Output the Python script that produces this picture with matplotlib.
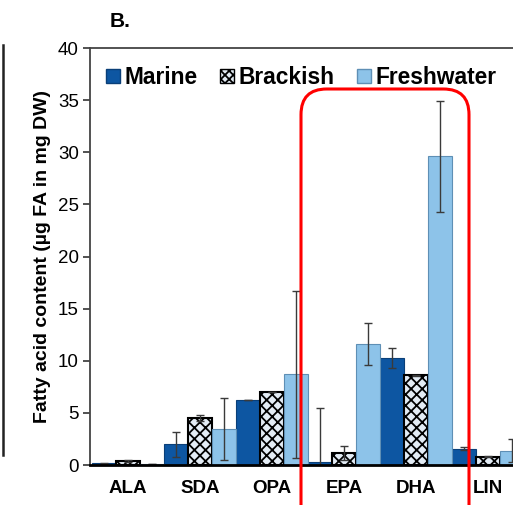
import matplotlib
matplotlib.use("Agg")
import matplotlib.pyplot as plt
import numpy as np
from matplotlib.patches import FancyBboxPatch, Patch
from matplotlib.lines import Line2D

plt.rcParams['font.family'] = ['Liberation Sans', 'DejaVu Sans']
plt.rcParams['hatch.linewidth'] = 1.3

categories = ["ALA", "SDA", "OPA", "EPA", "DHA", "LIN"]
marine = [0.15, 2.0, 6.2, 0.3, 10.3, 1.57]
marine_err = [0.05, 1.2, 0.0, 5.2, 0.95, 0.15]
brackish = [0.4, 4.5, 7.0, 1.18, 8.63, 0.8]
brackish_err = [0.1, 0.25, 0.0, 0.67, 0.05, 0.05]
freshwater = [0.05, 3.45, 8.7, 11.6, 29.6, 1.37]
freshwater_err = [0.0, 3.0, 8.0, 2.05, 5.3, 1.1]
series = ["Marine", "Brackish", "Freshwater"]
yticks = [0, 5, 10, 15, 20, 25, 30, 35, 40]

W, H = 513, 505
fig = plt.figure(figsize=(W / 100, H / 100), dpi=100)
ax = fig.add_axes([90 / W, 40 / H, 436 / W, 417 / H])

x = np.arange(len(categories))
bw = 1 / 3
c_m, c_b, c_f = "#0D56A2", "#E3ECF5", "#8DC3E9"
ekw = dict(ecolor="#3a3a3a", elinewidth=1.0, capsize=3, capthick=1.0)

ax.bar(x - bw, marine, bw, color=c_m, edgecolor="#0A3F78", linewidth=0.8,
       yerr=marine_err, error_kw=ekw, zorder=2)
ax.bar(x, brackish, bw, color=c_b, edgecolor="black", hatch="xxx", linewidth=1.5,
       yerr=brackish_err, error_kw=ekw, zorder=2)
ax.bar(x + bw, freshwater, bw, color=c_f, edgecolor="#5E8FB5", linewidth=0.8,
       yerr=freshwater_err, error_kw=ekw, zorder=2)

ax.set_xlim(-0.53, 5.53)
ax.set_ylim(0, 40)
ax.set_yticks(yticks)
ax.set_yticklabels([str(t) for t in yticks], fontsize=13.5)
ax.set_xticks(x)
ax.set_xticklabels(categories, fontsize=13.5, fontweight="bold")
ax.tick_params(axis="x", length=0, pad=11)
ax.tick_params(axis="y", direction="out", length=5, width=1.2, color="#333333", pad=3)
for s in ax.spines.values():
    s.set_color("#444444")
    s.set_linewidth(1.3)
ax.spines["bottom"].set_color("black")
ax.spines["bottom"].set_linewidth(2)
ax.set_ylabel("Fatty acid content (µg FA in mg DW)", fontsize=14,
              fontweight="bold", labelpad=5)

handles = [Patch(facecolor=c_m, edgecolor="#0A3F78"),
           Patch(facecolor=c_b, edgecolor="black", hatch="xxxx"),
           Patch(facecolor=c_f, edgecolor="#5E8FB5")]
leg = ax.legend(handles, series, loc="upper left", bbox_to_anchor=(0.0, 0.995),
                ncol=3, frameon=False, prop={"weight": "bold", "size": 16.4},
                handlelength=0.6, handleheight=0.6, handletextpad=0.2,
                columnspacing=1.0, borderaxespad=0.3)

fig.text(110 / W, 1 - 27 / H, "B.", fontsize=15, fontweight="bold")

# red highlight box (annotation on original image)
box = FancyBboxPatch((301 / W, -30 / H), 168 / W, (505 - 89 + 30) / H,
                     boxstyle="round,pad=0,rounding_size=0.05",
                     transform=fig.transFigure, fill=False, edgecolor="red",
                     linewidth=2.2, mutation_aspect=W / H, zorder=5)
fig.add_artist(box)

# remnant of neighbouring panel at left edge
fig.add_artist(Line2D([3 / W, 3 / W], [1 - 45 / H, 1 - 455 / H],
                      transform=fig.transFigure, color="#222222", linewidth=1.8))

fig.savefig("out.png", dpi=100)
